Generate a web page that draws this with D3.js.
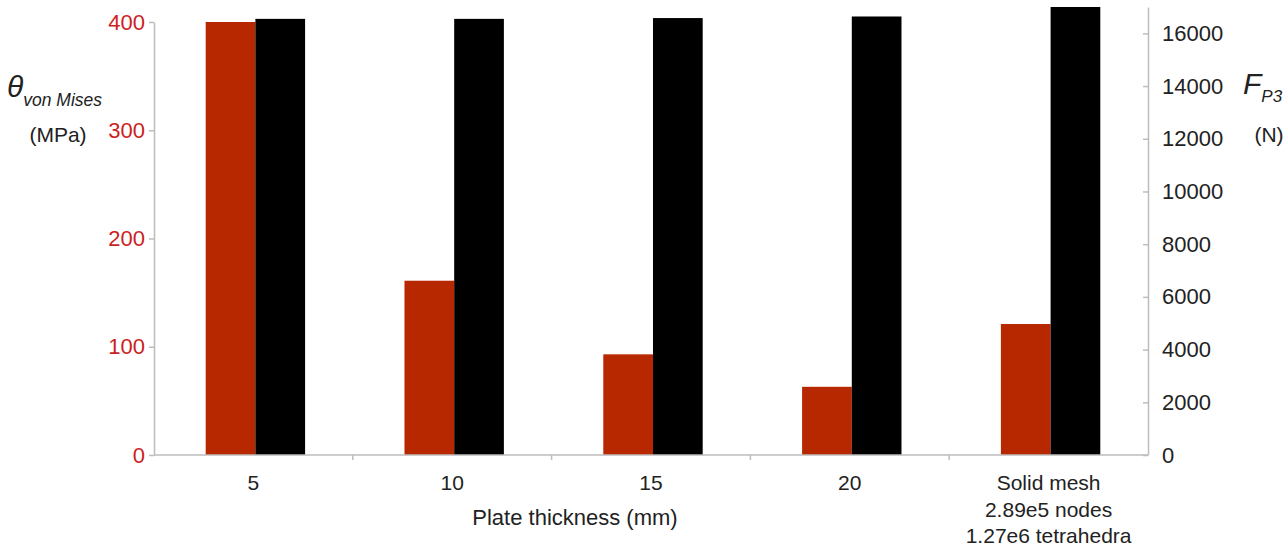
<!DOCTYPE html>
<html>
<head>
<meta charset="utf-8">
<script src="https://cdn.jsdelivr.net/npm/d3@7"></script>
<style>
  body { margin: 0; background: #fff; }
  svg text { font-family: "Liberation Sans", Arial, sans-serif; }
</style>
</head>
<body>
<div id="chart"></div>
<script>
// categories along the x axis (lines split by \n)
const categories = ["5", "10", "15", "20", "Solid mesh\n2.89e5 nodes\n1.27e6 tetrahedra"];
// von Mises stress (MPa), left axis
const stressValues = [400, 161, 93, 63, 121];
// force F_P3 (N), right axis
const forceValues = [16550, 16550, 16580, 16640, 17000];
const leftTicks = [0, 100, 200, 300, 400];
const rightTicks = [0, 2000, 4000, 6000, 8000, 10000, 12000, 14000, 16000];

function drawChart() {
    const W = 1288, H = 546;
    const left = 154, right = 1148, base = 455;

    const svg = d3.select("#chart").append("svg")
        .attr("width", W)
        .attr("height", H);

    const x = d3.scaleBand().domain(categories).range([left, right]).padding(0);
    const x1 = d3.scaleBand().domain(["stress", "force"])
        .range([x.bandwidth() * 0.26, x.bandwidth() * 0.76]);

    const yL = d3.scaleLinear().domain([0, 400]).range([base, 22]);
    const yR = d3.scaleLinear().domain([0, 17000]).range([base, 7]);

    // bars
    const groups = svg.append("g").selectAll("g")
        .data(categories)
        .enter().append("g")
        .attr("transform", d => `translate(${x(d)},0)`);

    groups.append("rect")
        .attr("x", x1("stress"))
        .attr("width", x1.bandwidth())
        .attr("y", (d, i) => yL(stressValues[i]))
        .attr("height", (d, i) => base - yL(stressValues[i]))
        .style("fill", "#b82800");

    groups.append("rect")
        .attr("x", x1("force"))
        .attr("width", x1.bandwidth())
        .attr("y", (d, i) => yR(forceValues[i]))
        .attr("height", (d, i) => base - yR(forceValues[i]))
        .style("fill", "#000");

    // left axis
    const gL = svg.append("g")
        .attr("transform", `translate(${left},0)`)
        .call(d3.axisLeft(yL).tickValues(leftTicks).tickSizeInner(5).tickSizeOuter(0).tickPadding(4));
    gL.selectAll("text").style("font-size", "22px").style("fill", "#cc1f1f");

    // right axis, ticks pointing inwards
    const gR = svg.append("g")
        .attr("transform", `translate(${right},0)`)
        .call(d3.axisRight(yR).tickValues(rightTicks).tickFormat(d3.format("d"))
            .tickSizeInner(-5).tickSizeOuter(0).tickPadding(14));
    gR.selectAll("text").style("font-size", "22px").style("fill", "#222");

    // x axis line with ticks at category boundaries
    svg.append("line")
        .attr("x1", left).attr("x2", right)
        .attr("y1", base).attr("y2", base);
    svg.append("g").selectAll("line")
        .data(categories.slice(1))
        .enter().append("line")
        .attr("x1", d => x(d)).attr("x2", d => x(d))
        .attr("y1", base).attr("y2", base + 5);

    svg.selectAll("line, path.domain").attr("stroke", "#bdbdbd").attr("stroke-width", 1.5);
    svg.selectAll(".tick line").attr("stroke", "#bdbdbd").attr("stroke-width", 1.5);

    // x tick labels
    const xl = svg.append("g").selectAll("text")
        .data(categories)
        .enter().append("text")
        .attr("text-anchor", "middle")
        .style("font-size", "21px")
        .style("fill", "#222");
    xl.selectAll("tspan")
        .data(d => d.split("\n").map(s => ({ s, c: d })))
        .enter().append("tspan")
        .attr("x", d => x(d.c) + x.bandwidth() / 2)
        .attr("y", (d, i) => base + 35 + i * 26.5)
        .text(d => d.s);

    // x axis title
    svg.append("text")
        .attr("x", 575).attr("y", 525)
        .attr("text-anchor", "middle")
        .style("font-size", "22px")
        .style("fill", "#222")
        .text("Plate thickness (mm)");

    // left axis title
    const tL = svg.append("text").attr("x", 7).attr("y", 97).style("fill", "#222");
    tL.append("tspan").style("font-size", "30px").style("font-style", "italic").text("θ");
    tL.append("tspan").attr("dy", 9).style("font-size", "17.5px").style("font-style", "italic").text("von Mises");
    svg.append("text")
        .attr("x", 58).attr("y", 142)
        .attr("text-anchor", "middle")
        .style("font-size", "21px")
        .style("fill", "#222")
        .text("(MPa)");

    // right axis title
    const tR = svg.append("text").attr("x", 1243).attr("y", 94).style("fill", "#222");
    tR.append("tspan").style("font-size", "30px").style("font-style", "italic").text("F");
    tR.append("tspan").attr("dy", 8).style("font-size", "17px").style("font-style", "italic").text("P3");
    svg.append("text")
        .attr("x", 1269).attr("y", 142)
        .attr("text-anchor", "middle")
        .style("font-size", "21px")
        .style("fill", "#222")
        .text("(N)");
}

drawChart();
</script>
</body>
</html>
